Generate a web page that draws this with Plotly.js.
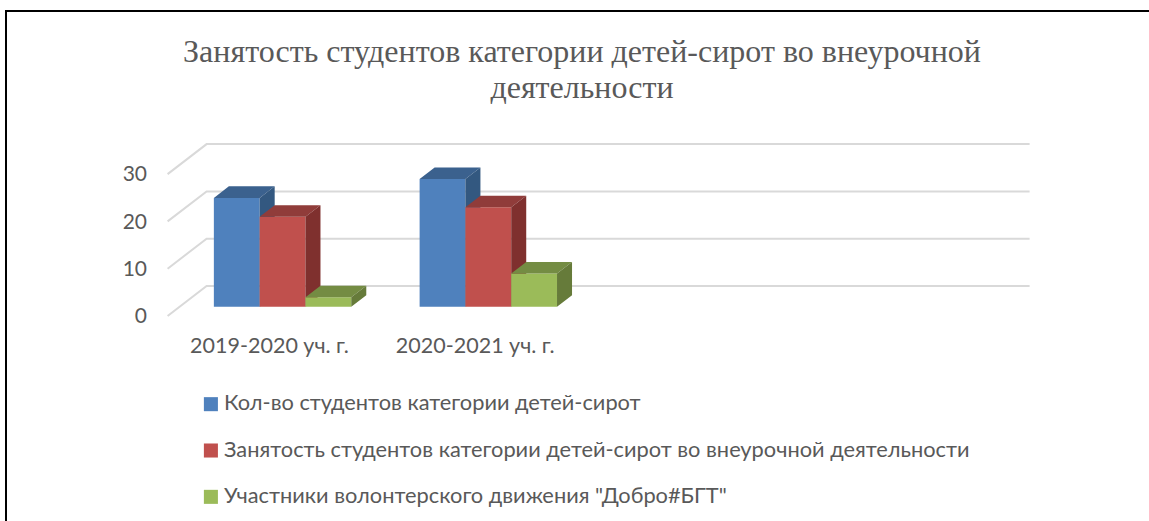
<!DOCTYPE html>
<html>
<head>
<meta charset="utf-8">
<script src="https://cdn.plot.ly/plotly-3.0.1.min.js"></script>
<style>html,body{margin:0;padding:0;background:#fff;overflow:hidden}#chart{width:1149px;height:521px}</style>
</head>
<body>
<div id="chart"></div>
<script>
const categories = ["2019-2020 уч. г.", "2020-2021 уч. г."];
const categorySlots = [1, 2];
const seriesNames = [
  "Кол-во студентов категории детей-сирот",
  "Занятость студентов категории детей-сирот во внеурочной деятельности",
  "Участники волонтерского движения \"Добро#БГТ\""
];
const studentsTotal = [23, 27];
const studentsBusy = [19, 21];
const volunteers = [2, 7];
const yTicks = [0, 10, 20, 30];
const frontColors = ["#4f81bd", "#c0504d", "#9bbb59"];
const topColors = ["#3b618e", "#903c3a", "#748c43"];
const sideColors = ["#335880", "#7f302e", "#667b3a"];

const seriesValues = [studentsTotal, studentsBusy, volunteers];
const W = 1149, H = 521;
const plotL = 160, plotR = 1040, plotT = 140, plotB = 320;
const pxPerSlot = 205.75, pxPerUnit = 4.73;
const floorL = 167.6, floorY = 316;
const depthX = 39 / pxPerSlot, depthY = 30 / pxPerUnit;
const barW = 45.8 / pxPerSlot, barNear = 0.31, barFar = 0.695;

const xRange = [0.5 + (plotL - floorL) / pxPerSlot, 0.5 + (plotR - floorL) / pxPerSlot];
const yRange = [(floorY - plotB) / pxPerUnit, (floorY - plotT) / pxPerUnit];
const slotMin = 0.5, slotMax = 4.5;

function paperX(px) { return (px - plotL) / (plotR - plotL); }
function paperY(py) { return (plotB - py) / (plotB - plotT); }

const traces = [];

const gx = [], gy = [];
yTicks.forEach(v => {
  gx.push(slotMin, slotMin + depthX, slotMax + depthX, null);
  gy.push(v, v + depthY, v + depthY, null);
});
traces.push({type: "scatter", mode: "lines", x: gx, y: gy, xaxis: "x", yaxis: "y",
  line: {color: "#d9d9d9", width: 2}, hoverinfo: "skip", showlegend: false});

seriesValues.forEach((vals, s) => {
  const xa = "x" + (s + 2), ya = "y" + (s + 2);
  const centers = categorySlots.map(c => c + (s - 1) * barW + barNear * depthX);
  traces.push({type: "bar", name: seriesNames[s], x: centers, y: vals,
    base: vals.map(() => barNear * depthY), width: barW, xaxis: xa, yaxis: ya,
    marker: {color: frontColors[s]}, legendgroup: "s" + s, hoverinfo: "y"});
  const tx = [], ty = [], sx = [], sy = [];
  vals.forEach((v, i) => {
    const l = centers[i] - barW / 2, r = centers[i] + barW / 2;
    const dd = barFar - barNear;
    const yN = v + barNear * depthY, yF = yN + dd * depthY, bN = barNear * depthY, bF = bN + dd * depthY;
    tx.push(l, r, r + dd * depthX, l + dd * depthX, l, null);
    ty.push(yN, yN, yF, yF, yN, null);
    sx.push(r, r + dd * depthX, r + dd * depthX, r, r, null);
    sy.push(yN, yF, bF, bN, yN, null);
  });
  [[tx, ty, topColors[s]], [sx, sy, sideColors[s]]].forEach(f => {
    traces.push({type: "scatter", mode: "lines", x: f[0], y: f[1], xaxis: xa, yaxis: ya,
      fill: "toself", fillcolor: f[2], line: {width: 0, color: f[2]},
      hoverinfo: "skip", showlegend: false});
  });
});

const calibriLike = "Lato, 'Noto Sans', 'Open Sans', sans-serif";
const layout = {
  width: W, height: H,
  margin: {l: plotL, r: W - plotR, t: plotT, b: H - plotB, autoexpand: false},
  paper_bgcolor: "#ffffff", plot_bgcolor: "rgba(0,0,0,0)",
  showlegend: true,
  title: {
    text: "Занятость студентов категории детей-сирот во внеурочной<br>деятельности",
    x: 582 / W, xanchor: "center", y: 1 - 61.5 / H, yanchor: "top",
    font: {family: "'Liberation Serif', serif", size: 32, color: "#595959"}
  },
  xaxis: {range: xRange, tickmode: "array", tickvals: categorySlots, ticktext: categories,
    showgrid: false, zeroline: false, showline: false, ticks: "", ticklabelstandoff: 10,
    ticklabelshift: -1,
    tickfont: {family: calibriLike, size: 21.5, color: "#595959"}},
  yaxis: {range: yRange, tickmode: "array", tickvals: yTicks, ticktext: yTicks.map(String),
    showgrid: false, zeroline: false, showline: false, ticks: "", ticklabelstandoff: 12,
    tickfont: {family: calibriLike, size: 21, color: "#595959"}},
  legend: {
    x: paperX(184), xanchor: "left", y: paperY(381), yanchor: "top",
    orientation: "v", traceorder: "grouped", tracegroupgap: 15,
    bgcolor: "rgba(0,0,0,0)", borderwidth: 0,
    font: {family: calibriLike, size: 21.8, color: "#595959"}
  },
  shapes: [
    {type: "line", xref: "paper", yref: "paper", x0: paperX(5), x1: paperX(1149), y0: paperY(11), y1: paperY(11), line: {color: "#000", width: 2}},
    {type: "line", xref: "paper", yref: "paper", x0: paperX(6), x1: paperX(6), y0: paperY(10), y1: paperY(521), line: {color: "#000", width: 2}}
  ]
};
[2, 3, 4].forEach(n => {
  layout["xaxis" + n] = {range: xRange, overlaying: "x", visible: false, fixedrange: true};
  layout["yaxis" + n] = {range: yRange, overlaying: "y", visible: false, fixedrange: true};
});

Plotly.newPlot("chart", traces, layout, {displayModeBar: false, responsive: false}).then(gd => {
  document.querySelectorAll(".legend .legendsymbols").forEach(g => {
    g.setAttribute("transform", "translate(3.5,2.5) scale(1.17)");
  });
  const lines = document.querySelectorAll(".gtitle tspan.line");
  if (lines.length === 2) {
    lines[1].setAttribute("dy", "36px");
  }
});
</script>
</body>
</html>
